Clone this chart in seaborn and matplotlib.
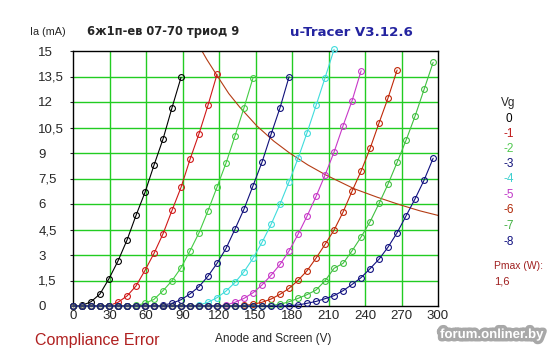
import numpy as np
import pandas as pd
import matplotlib
matplotlib.use("Agg")
import matplotlib.pyplot as plt
import matplotlib.patheffects as pe
import seaborn as sns

# anode sweep voltages (V)
anode_v = [0.0, 7.4, 14.8, 22.2, 29.6, 37.0, 44.4, 51.8, 59.2, 66.6,
           74.0, 81.4, 88.8, 96.2, 103.6, 111.0, 118.4, 125.8, 133.2, 140.6,
           148.0, 155.4, 162.8, 170.2, 177.6, 185.0, 192.4, 199.8, 207.2, 214.6,
           222.0, 229.4, 236.8, 244.2, 251.6, 259.0, 266.4, 273.8, 281.2, 288.6,
           296.0]

grid_v = ["0", "-1", "-2", "-3", "-4", "-5", "-6", "-7", "-8"]

# anode current (mA) per grid voltage
ia_0 = [0.0, 0.03, 0.25, 0.71, 1.61, 2.65, 3.88, 5.33, 6.69, 8.29, 9.82, 11.67, 13.45]
ia_1 = [0.0] * 4 + [0.02, 0.22, 0.59, 1.18, 2.10, 3.10, 4.25, 5.63, 6.98, 8.63,
                    10.14, 11.82, 13.63]
ia_2 = [0.0] * 7 + [0.03, 0.16, 0.39, 0.90, 1.49, 2.25, 3.25, 4.31, 5.61, 7.00,
                    8.41, 10.02, 11.67, 13.43]
ia_3 = [0.0] * 10 + [0.05, 0.16, 0.37, 0.71, 1.14, 1.76, 2.51, 3.39, 4.53, 5.71,
                     7.08, 8.47, 10.10, 11.67, 13.49]
ia_4 = [0.0] * 14 + [0.06, 0.22, 0.49, 0.88, 1.39, 2.02, 2.81, 3.75, 4.80, 6.00,
                     7.31, 8.69, 10.20, 11.80, 13.43, 15.10]
ia_5 = [0.0] * 17 + [0.06, 0.22, 0.45, 0.78, 1.24, 1.81, 2.45, 3.24, 4.22, 5.29,
                     6.45, 7.71, 9.06, 10.61, 12.08, 13.84]
ia_6 = [0.0] * 19 + [0.03, 0.10, 0.22, 0.41, 0.69, 1.04, 1.51, 2.08, 2.82, 3.63,
                     4.47, 5.53, 6.76, 7.94, 9.27, 10.78, 12.25, 13.88]
ia_7 = [0.0] * 22 + [0.03, 0.10, 0.25, 0.45, 0.67, 0.94, 1.49, 2.22, 2.51, 3.25,
                     4.06, 4.96, 6.04, 7.18, 8.45, 9.76, 11.18, 12.75, 14.33]
ia_8 = [0.0] * 24 + [0.02, 0.06, 0.16, 0.27, 0.43, 0.61, 0.90, 1.27, 1.67, 2.20,
                     2.76, 3.47, 4.31, 5.31, 6.31, 7.41, 8.69]
curves = [ia_0, ia_1, ia_2, ia_3, ia_4, ia_5, ia_6, ia_7, ia_8]

# Pmax = 1,6 W limit line
pmax_v = [106, 110, 118, 128, 137, 151, 165, 178, 193, 208, 231, 250, 268, 285, 300]
pmax_ia = [15.0, 14.5, 13.6, 12.5, 11.7, 10.6, 9.7, 9.0, 8.3, 7.7, 6.9, 6.4, 5.97, 5.6, 5.33]

x_ticks = [0, 30, 60, 90, 120, 150, 180, 210, 240, 270, 300]
y_ticks = [0, 1.5, 3, 4.5, 6, 7.5, 9, 10.5, 12, 13.5, 15]
y_tick_labels = ["0", "1,5", "3", "4,5", "6", "7,5", "9", "10,5", "12", "13,5", "15"]

colors = ["#000000", "#d01818", "#44cc44", "#10107a", "#40dcdc",
          "#c838c8", "#c02808", "#40c040", "#101080"]
legend_colors = ["#000000", "#c01818", "#50c850", "#10107a", "#40d0d0",
                 "#c038c8", "#b02808", "#40b040", "#101080"]

sns.set_style("white")
plt.rcParams["font.family"] = ["Liberation Sans", "DejaVu Sans"]

W, H = 547, 357
fig = plt.figure(figsize=(W / 100, H / 100), dpi=100)
ax = fig.add_axes([73 / W, 1 - 306 / H, (438 - 73) / W, (306 - 51) / H])

# grid
for v in x_ticks[1:-1]:
    ax.axvline(v, color="#22cc22", lw=1.0, zorder=0)
for v in y_ticks[1:-1]:
    ax.axhline(v, color="#22cc22", lw=1.0, zorder=0)

sns.lineplot(x=pmax_v, y=pmax_ia, color="#b43c14", lw=0.8, ax=ax, legend=False,
             sort=False, zorder=2)

for ia, c in zip(curves, colors):
    df = pd.DataFrame({"Va": anode_v[:len(ia)], "Ia": ia})
    sns.lineplot(data=df, x="Va", y="Ia", color=c, lw=0.8, marker="o",
                 markersize=4.2, markerfacecolor="none", markeredgecolor=c,
                 markeredgewidth=0.8, ax=ax, legend=False, clip_on=False, zorder=3)

ax.set_xlim(0, 300)
ax.set_ylim(0, 15)
ax.set_xticks(x_ticks)
ax.set_yticks(y_ticks)
ax.set_yticklabels(y_tick_labels, ha="left")
ax.tick_params(axis="y", length=2.5, width=0.8, pad=22.5, labelsize=9.5, left=True)
ax.tick_params(axis="x", length=0, pad=3, labelsize=9.5)
ax.set_xlabel("")
ax.set_ylabel("")
for s in ax.spines.values():
    s.set_color("black")
    s.set_linewidth(1.0)

def ft(px, py, s, **kw):
    fig.text(px / W, 1 - py / H, s, **kw)

ft(30, 32, "Ia (mA)", fontsize=7.8, va="center")
ft(87, 32, "6ж1п-ев 07-70 триод 9", fontsize=8.3, fontweight="bold",
   family="DejaVu Sans", va="center")
ft(290, 32, "u-Tracer V3.12.6", fontsize=9.6, fontweight="bold",
   family="DejaVu Sans", color="#2424a0", va="center")
ft(273, 339, "Anode and Screen (V)", fontsize=8.5, ha="center", va="center")
ft(35, 341, "Compliance Error", fontsize=11.5, color="#b02020", va="center")

ft(508, 103, "Vg", fontsize=8.5, ha="center", va="center")
legend_y = [119, 134, 149, 164, 179, 195, 210, 226, 242]
for lab, c, py in zip(grid_v, legend_colors, legend_y):
    ft(509, py, lab, fontsize=8.5, ha="center", va="center", color=c)
ft(494, 266, "Pmax (W):", fontsize=7.5, color="#a02020", va="center")
ft(494, 282, "1,6", fontsize=8, color="#a02020", va="center")

ft(492, 335, "forum.onliner.by", fontsize=9.5, fontweight="bold", color="white",
   ha="center", va="center", family="Liberation Sans",
   path_effects=[pe.withStroke(linewidth=5, foreground="#a8a8a8")])

fig.savefig("out.png", dpi=100)
